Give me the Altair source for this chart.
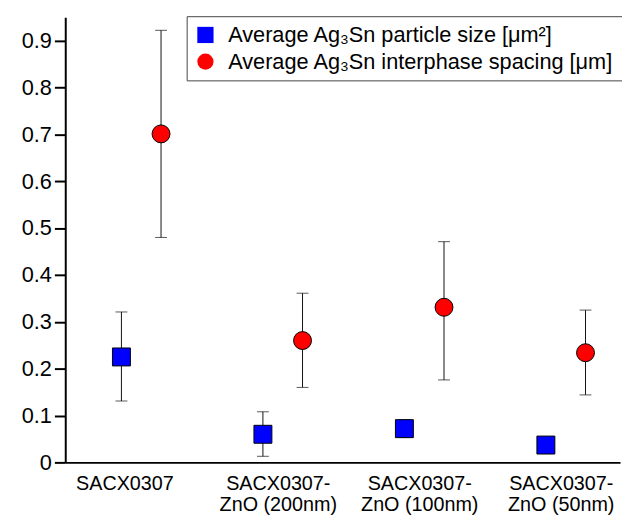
import altair as alt
import pandas as pd

categories = [["SACX0307"], ["SACX0307-", "ZnO (200nm)"], ["SACX0307-", "ZnO (100nm)"], ["SACX0307-", "ZnO (50nm)"]]
series = ["Average Ag\u2083Sn particle size [\u03bcm\u00b2]", "Average Ag\u2083Sn interphase spacing [\u03bcm]"]

size_mean = [0.225, 0.060, 0.072, 0.037]
size_lo = [0.131, 0.013, 0.053, 0.029]
size_hi = [0.321, 0.108, 0.091, 0.045]

spacing_mean = [0.701, 0.260, 0.331, 0.234]
spacing_lo = [0.480, 0.160, 0.176, 0.144]
spacing_hi = [0.922, 0.361, 0.471, 0.325]

DODGE = 0.14
rows = []
for i in range(4):
    rows.append({"pos": i + 1 - DODGE, "series": series[0], "mean": size_mean[i], "lo": size_lo[i], "hi": size_hi[i]})
    rows.append({"pos": i + 1 + DODGE, "series": series[1], "mean": spacing_mean[i], "lo": spacing_lo[i], "hi": spacing_hi[i]})
df = pd.DataFrame(rows)

FONT = "Liberation Sans"
label_array = "[" + ",".join("[" + ",".join("'" + s + "'" for s in c) + "]" for c in categories) + "]"

x_enc = alt.X("pos:Q", scale=alt.Scale(domain=[0.463, 4.384], nice=False, zero=False),
              axis=alt.Axis(values=[1, 2, 3, 4], title=None, grid=False, ticks=False,
                            labelExpr=label_array + "[datum.value - 1]",
                            labelFont=FONT, labelFontSize=20, labelColor="black",
                            labelLineHeight=22, labelPadding=11, labelBaseline="top",
                            labelOffset={"condition": {"test": "datum.value == 1", "value": -17}, "value": -5},
                            domainColor="black", domainWidth=2))

yvals = [round(k * 0.05, 2) for k in range(20)]
y_axis = alt.Axis(values=yvals, title=None, grid=False, format=".2~f",
                  labelExpr="round(datum.value * 20) % 2 == 1 ? '' : datum.label",
                  tickSize={"condition": {"test": "round(datum.value * 20) % 2 == 1", "value": 6}, "value": 11},
                  tickColor="black", tickWidth=2, domainColor="black", domainWidth=2,
                  labelFont=FONT, labelFontSize=22, labelColor="black", labelPadding=3)
y_scale = alt.Scale(domain=[0, 0.95], nice=False)

base = alt.Chart(df)

rules = base.mark_rule(color="#111", strokeWidth=1).encode(
    x=x_enc, y=alt.Y("lo:Q", scale=y_scale, axis=y_axis), y2="hi:Q")
cap_lo = base.mark_tick(orient="horizontal", size=12, thickness=1, color="#111").encode(
    x="pos:Q", y="lo:Q")
cap_hi = base.mark_tick(orient="horizontal", size=12, thickness=1, color="#111").encode(
    x="pos:Q", y="hi:Q")

legend = alt.Legend(title=None, orient="none", legendX=123, legendY=-1,
                    strokeColor="#444", padding=8, fillColor="white",
                    labelFont=FONT, labelFontSize=22, labelColor="black",
                    labelLimit=0, labelOffset=12, rowPadding=5,
                    symbolSize=270, symbolStrokeColor="black",
                    symbolStrokeWidth=1, symbolOpacity=1)

points = base.mark_point(filled=True, size=330, stroke="black", strokeWidth=1, opacity=1).encode(
    x="pos:Q",
    y=alt.Y("mean:Q"),
    color=alt.Color("series:N", scale=alt.Scale(domain=series, range=["#0000FF", "#FF0000"]), legend=legend),
    shape=alt.Shape("series:N", scale=alt.Scale(domain=series, range=["square", "circle"]), legend=legend),
)

chart = alt.layer(rules, cap_lo, cap_hi, points).properties(
    width=562, height=451,
    autosize=alt.AutoSizeParams(type="none"),
    padding={"left": 58, "top": 6, "right": 2, "bottom": 51},
    background="white",
).configure_view(stroke=None)

chart.save("out.html", embed_options={"renderer": "svg", "actions": False})
